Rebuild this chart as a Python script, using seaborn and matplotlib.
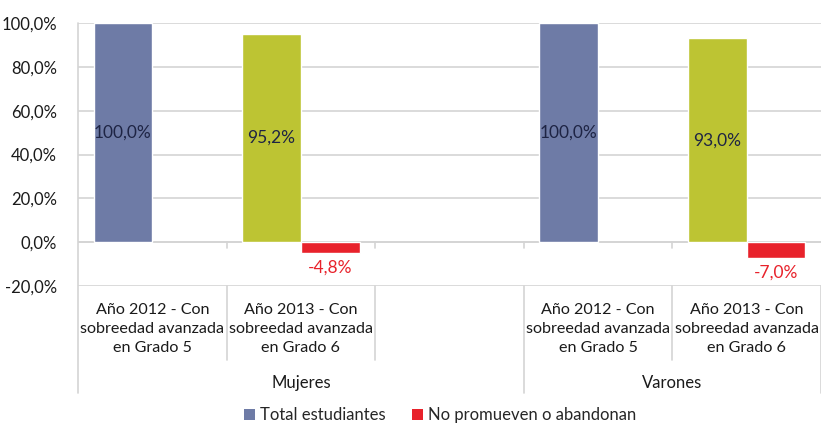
import matplotlib
matplotlib.use("Agg")
import matplotlib.pyplot as plt
from matplotlib.lines import Line2D
from matplotlib.patches import Patch
import matplotlib.transforms as mtransforms
import numpy as np
import pandas as pd
import seaborn as sns

# --- data -------------------------------------------------------------
claves = ["m2012", "m2013", "sep", "v2012", "v2013"]
etiquetas_cat = [
    "Año 2012 - Con\nsobreedad avanzada\nen Grado 5",
    "Año 2013 - Con\nsobreedad avanzada\nen Grado 6",
    "",
    "Año 2012 - Con\nsobreedad avanzada\nen Grado 5",
    "Año 2013 - Con\nsobreedad avanzada\nen Grado 6",
]
grupos = ["Mujeres", "Varones"]
series = ["Total estudiantes", "No promueven o abandonan"]
total_estudiantes = [100.0, 95.2, None, 100.0, 93.0]
no_promueven = [None, -4.8, None, None, -7.0]
y_ticks = [-20, 0, 20, 40, 60, 80, 100]

AZUL = "#6E7BA6"
VERDE = "#BDC433"
ROJO = "#E8222B"
GRIS = "#D4D4D4"
TEXTO = "#1A1A1A"

filas = []
for k, t, n in zip(claves, total_estudiantes, no_promueven):
    if t is not None:
        filas.append((k, series[0], t))
    if n is not None:
        filas.append((k, series[1], n))
df = pd.DataFrame(filas, columns=["clave", "serie", "valor"])

sns.set_theme(style="white")
plt.rcParams["font.family"] = ["Lato", "DejaVu Sans"]
FS = 12

fig = plt.figure(figsize=(8.21, 4.24), dpi=100)
ax = fig.add_axes([78 / 821, 138 / 424, 743 / 821, 263 / 424])

sns.barplot(data=df, x="clave", y="valor", hue="serie", order=claves,
            hue_order=series, palette={series[0]: AZUL, series[1]: ROJO},
            width=0.79, errorbar=None, saturation=1, ax=ax, zorder=3)
if ax.legend_ is not None:
    ax.legend_.remove()

ax.set_xlim(-0.5, len(claves) - 0.5)
ax.set_ylim(-20, 100)
ax.set_yticks(y_ticks)
ax.set_yticklabels([f"{v:.1f}".replace(".", ",") + "%" for v in y_ticks],
                   fontsize=FS, color=TEXTO)
ax.tick_params(axis="y", length=0, pad=15)
ax.set_xticks([])
ax.set_xlabel("")
ax.set_ylabel("")
for s in ax.spines.values():
    s.set_visible(False)

# gridlines
for v in y_ticks:
    ax.axhline(v, color=GRIS, lw=1.2, zorder=1)

# recolour the 2013 totals and add value labels
def fmt(v):
    return f"{v:.1f}".replace(".", ",") + "%"

for p in ax.patches:
    h = p.get_height()
    if h is None or np.isnan(h) or p.get_width() == 0:
        continue
    cx = p.get_x() + p.get_width() / 2
    if h > 0:
        k = int(round(cx + 0.1975))
        if claves[k] in ("m2013", "v2013"):
            p.set_facecolor(VERDE)
        ax.text(cx, h / 2, fmt(h), ha="center", va="center",
                fontsize=FS + 0.5, color="#1E2444", zorder=4)
    else:
        ax.annotate(fmt(h), (cx, h), xytext=(0, -5), textcoords="offset points",
                    ha="center", va="top", fontsize=FS + 0.5, color=ROJO, zorder=4)

# category axis at zero with small ticks
trans_b = mtransforms.blended_transform_factory(ax.transData, ax.transAxes)
ax.axhline(0, color=GRIS, lw=1.2, zorder=2)
px = 1 / 263
for b in np.arange(0.5, len(claves) - 0.5, 1.0):
    ax.add_line(Line2D([b, b], [20 / 120, 20 / 120 - 6 * px], transform=trans_b,
                       color=GRIS, lw=1.2, clip_on=False))

# left axis line and separators below the plot
largo = -107 * px
corto = -74 * px
ax.add_line(Line2D([-0.5, -0.5], [1, largo], transform=trans_b, color=GRIS,
                   lw=1.2, clip_on=False))
for b, y0 in [(0.5, corto), (1.5, corto), (2.5, largo), (3.5, corto), (4.5, largo)]:
    ax.add_line(Line2D([b, b], [0, y0], transform=trans_b, color=GRIS,
                       lw=1.2, clip_on=False))

# category labels and group labels
for i, lab in enumerate(etiquetas_cat):
    if lab:
        ax.text(i, -43 * px, lab, transform=trans_b, ha="center", va="center",
                fontsize=11.6, color=TEXTO, linespacing=1.42)
ax.text(1.0, -97 * px, grupos[0], transform=trans_b, ha="center",
        va="center", fontsize=FS, color=TEXTO)
ax.text(3.5, -97 * px, grupos[1], transform=trans_b, ha="center",
        va="center", fontsize=FS, color=TEXTO)

handles = [Patch(facecolor=AZUL, edgecolor="none"), Patch(facecolor=ROJO, edgecolor="none")]
fig.legend(handles, series, loc="center", bbox_to_anchor=(440 / 821, 9 / 424),
           ncol=2, frameon=False, fontsize=FS, handlelength=0.65, handleheight=0.65,
           handletextpad=0.3, columnspacing=1.6)

fig.savefig("out.png", dpi=100)
